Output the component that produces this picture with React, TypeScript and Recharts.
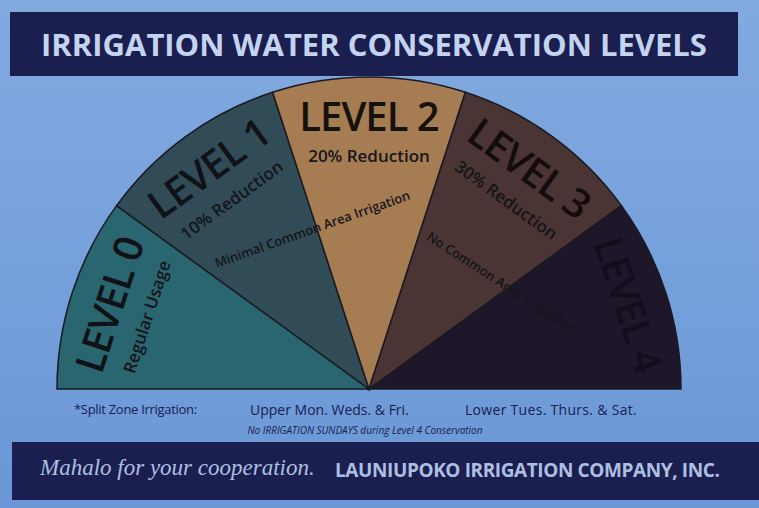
import React from "react"
import { PieChart, Pie, Cell } from "recharts"

// slices of the half dial, left to right
const levels = ["LEVEL 0", "LEVEL 1", "LEVEL 2", "LEVEL 3", "LEVEL 4"]
const shares = [1, 1, 1, 1, 1]
const reductions = ["Regular Usage", "10% Reduction", "20% Reduction", "30% Reduction", ""]
const restrictions = ["", "", "Minimal Common Area Irrigation", "No Common Area Irrigation", ""]

const splitZone = ["*Split Zone Irrigation:", "Upper Mon. Weds. & Fri.", "Lower Tues. Thurs. & Sat."]
const sundayNote = "No IRRIGATION SUNDAYS during Level 4 Conservation"

const SLICE_COLORS = ["#2a6670", "#314c56", "#a67c52", "#4a3434", "#1d1729"]
const LEVEL_TEXT = ["#101217", "#101217", "#15110c", "#120c0c", "#120e1b"]
// the second note of a slice sits off its middle (degrees) and has its own tilt
const RESTRICTION_SHIFT = [0, 0, 19.5, -15, 0]
const RESTRICTION_TILT = [0, 0, -19.5, 33, 0]

const RADIAN = Math.PI / 180

const data = levels.map((name, i) => ({
  name,
  value: shares[i],
  reduction: reductions[i],
  restriction: restrictions[i],
}))

function arcText(
  cx: number,
  cy: number,
  angle: number,
  r: number,
  text: string,
  size: number,
  weight: number,
  fill: string,
  key: string,
  tilt?: number,
  spacing = 0
) {
  const x = cx + r * Math.cos(-angle * RADIAN)
  const y = cy + r * Math.sin(-angle * RADIAN)
  const rot = tilt ?? 90 - angle
  return (
    <text
      key={key}
      x={x}
      y={y}
      textAnchor="middle"
      dominantBaseline="central"
      fontFamily="'Open Sans', sans-serif"
      fontSize={size}
      fontWeight={weight}
      letterSpacing={spacing}
      fill={fill}
      transform={`rotate(${rot}, ${x}, ${y})`}
    >
      {text}
    </text>
  )
}

const renderLabel = (props: any) => {
  const { cx, cy, midAngle, index, payload } = props
  const p = payload?.payload ?? payload
  return (
    <g>
      {arcText(cx, cy, midAngle, 274, levels[index], 40, 600, LEVEL_TEXT[index], "t", undefined, -1)}
      {p.reduction
        ? arcText(cx, cy, midAngle, 234, p.reduction, 17, 600, "#15151a", "r")
        : null}
      {p.restriction
        ? arcText(
            cx,
            cy,
            midAngle + RESTRICTION_SHIFT[index],
            170,
            p.restriction,
            13,
            600,
            "#15151a",
            "n",
            RESTRICTION_TILT[index]
          )
        : null}
    </g>
  )
}

export default function App() {
  return (
    <div
      style={{
        position: "absolute",
        left: 0,
        top: 0,
        width: 759,
        height: 508,
        background: "linear-gradient(180deg, #82aadf 0%, #76a0dc 55%, #6b97d6 100%)",
        overflow: "hidden",
        fontFamily: "'Open Sans', sans-serif",
      }}
    >
      <div
        style={{
          position: "absolute",
          left: 10,
          top: 12,
          width: 728,
          height: 64,
          background: "#1b1f4f",
          color: "#c3d4ef",
          fontSize: 31,
          fontWeight: 700,
          display: "flex",
          alignItems: "center",
          justifyContent: "center",
        }}
      >
        IRRIGATION WATER CONSERVATION LEVELS
      </div>

      <div style={{ position: "absolute", left: 0, top: 0 }}>
        <PieChart width={759} height={508} margin={{ top: 0, right: 0, bottom: 0, left: 0 }}>
          <Pie
            data={data}
            dataKey="value"
            nameKey="name"
            cx={369}
            cy={389}
            outerRadius={312}
            startAngle={180}
            endAngle={0}
            stroke="#1a1a22"
            strokeWidth={1.5}
            label={renderLabel}
            labelLine={false}
            isAnimationActive={false}
          >
            {data.map((d, i) => (
              <Cell key={d.name} fill={SLICE_COLORS[i]} />
            ))}
          </Pie>
        </PieChart>
      </div>

      <div
        style={{
          position: "absolute",
          top: 400,
          left: 0,
          width: 759,
          fontSize: 14,
          color: "#1a2050",
        }}
      >
        <span style={{ position: "absolute", left: 74, fontSize: 13, letterSpacing: -0.3 }}>
          {splitZone[0]}
        </span>
        <span style={{ position: "absolute", left: 250 }}>{splitZone[1]}</span>
        <span style={{ position: "absolute", left: 465, letterSpacing: 0.3 }}>{splitZone[2]}</span>
      </div>
      <div
        style={{
          position: "absolute",
          top: 423,
          left: 0,
          width: 730,
          textAlign: "center",
          fontSize: 10,
          fontStyle: "italic",
          color: "#1a2050",
        }}
      >
        {sundayNote}
      </div>

      <div
        style={{
          position: "absolute",
          left: 12,
          top: 442,
          width: 747,
          height: 58,
          background: "#1b1f4f",
          color: "#aebfe2",
        }}
      >
        <span
          style={{
            position: "absolute",
            left: 28,
            top: 13,
            fontFamily: "'Liberation Serif', serif",
            fontStyle: "italic",
            fontSize: 23,
          }}
        >
          Mahalo for your cooperation.
        </span>
        <span
          style={{
            position: "absolute",
            left: 323,
            top: 15,
            fontSize: 19,
            fontWeight: 700,
            letterSpacing: -0.4,
          }}
        >
          LAUNIUPOKO IRRIGATION COMPANY, INC.
        </span>
      </div>
    </div>
  )
}
